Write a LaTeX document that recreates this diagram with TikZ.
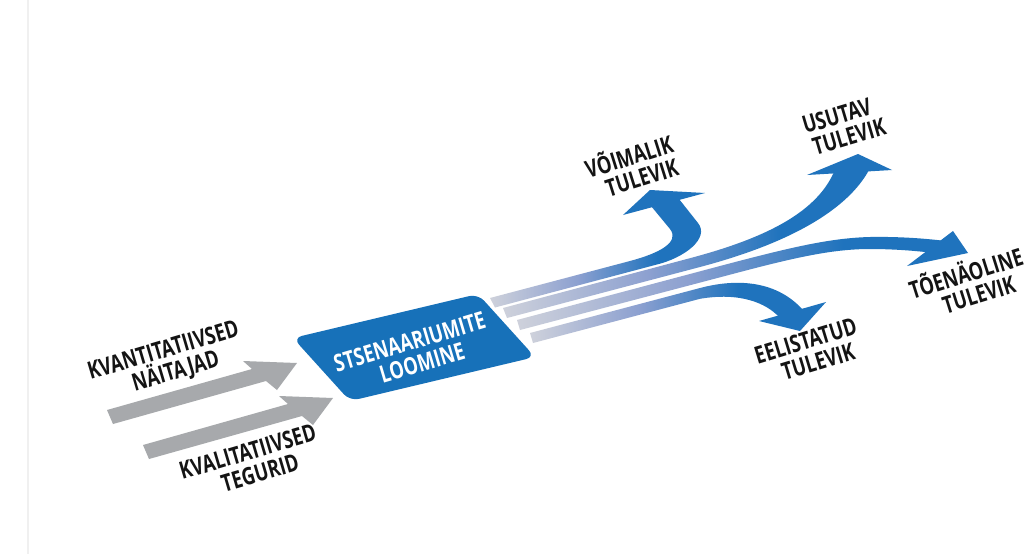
\documentclass[tikz,border=0pt]{standalone}
\usepackage{fontspec}
\newfontfamily\labfont{Open Sans}[FakeStretch=0.76]
\definecolor{boxblue}{RGB}{23,113,185}
\definecolor{arrowblue}{RGB}{31,115,189}
\definecolor{bandlight}{RGB}{206,209,219}
\definecolor{bandmid}{RGB}{140,160,208}
\definecolor{grayarrow}{RGB}{167,169,172}
\definecolor{labelink}{RGB}{20,20,20}
\definecolor{edgeline}{RGB}{240,240,240}
\pgfdeclarehorizontalshading{bandshade}{100bp}{color(0bp)=(bandlight); color(25bp)=(bandlight); color(45bp)=(bandmid); color(63bp)=(arrowblue); color(100bp)=(arrowblue)}
\begin{document}
\begin{tikzpicture}[x=1pt,y=-1pt,
  lab/.style={font=\labfont\bfseries\fontsize{24}{23.5}\selectfont, align=center, inner sep=0pt, text=labelink},
  boxtext/.style={lab, text=white},
  band/.style={shading=bandshade, shading angle=0},
  head/.style={fill=arrowblue},
  grayarr/.style={fill=grayarrow}]
\useasboundingbox (0,0) rectangle (1027,554);
\fill[white] (0,0) rectangle (1027,554);
\draw[edgeline, line width=1.2pt] (28,0) -- (28,554);

% grey input arrows
\fill[grayarr] (107,410) -- (252,369) -- (243,361) -- (297,363) -- (277,390) -- (266,381) -- (113,424) -- cycle;
\fill[grayarr] (143,445) -- (288,404) -- (279,396) -- (333,398) -- (313,425) -- (302,416) -- (149,459) -- cycle;

% central box
\fill[boxblue, rounded corners=9pt] (293,338) -- (478,294) -- (535,357) -- (350,401) -- cycle;
\node[boxtext, rotate=16.5] (box) at (413,353) {STSENAARIUMITE\\\hspace*{12pt}LOOMINE};

% band 1 -> VOIMALIK
\shade[band] (490,298) -- (630,261) .. controls (660,253) and (680,242) .. (670,229) -- (651,206) -- (679,199) -- (698,223) .. controls (710,238) and (685,258) .. (655,265) -- (495,307.5) -- cycle;
\fill[head] (623,215) -- (650,190) -- (705,193) -- cycle;

% band 2 -> USUTAV
\shade[band] (503,308) -- (685,259.5) .. controls (760,240) and (815,215) .. (834,172) -- (869,170) .. controls (850,205) and (800,240.5) .. (700,267) -- (507,318) -- cycle;
\fill[head] (807,175) -- (858,154) -- (892,170) -- cycle;

% band 3 -> TOENAOLINE
\shade[band] (517,320) -- (720,266) .. controls (790,247.5) and (830,238) .. (870,237) .. controls (900,236.5) and (925,238.5) .. (946,241) -- (941,254) .. controls (920,251) and (895,249) .. (870,249) .. controls (830,249) and (790,258.7) .. (725,276) -- (520,330) -- cycle;
\fill[head] (953,231) -- (968,253) -- (907,266) -- cycle;

% band 4 -> EELISTATUD
\shade[band] (530,333) -- (700,288) .. controls (740,277.5) and (778,282) .. (803,310) -- (779,317) .. controls (766,303) and (740,292) .. (700,298.8) -- (533,343) -- cycle;
\fill[head] (759,321) -- (826,302) -- (800,331) -- cycle;

% labels
\node[lab, rotate=16.5] (kvant) at (167,363) {KVANTITATIIVSED\\\hspace*{12pt}NÄITAJAD};
\node[lab, rotate=16.5] (kval) at (251,463) {KVALITATIIVSED\\\hspace*{12pt}TEGURID};
\node[lab, rotate=17.5] (voim) at (632,166) {VÕIMALIK\\\hspace*{12pt}TULEVIK};
\node[lab, rotate=16.5] (usut) at (840,127) {USUTAV\\\hspace*{12pt}TULEVIK};
\node[lab, rotate=17.5] (toen) at (969,283) {TÕENÄOLINE\\\hspace*{12pt}TULEVIK};
\node[lab, rotate=17] (eel) at (809,352) {EELISTATUD\\\hspace*{12pt}TULEVIK};
\end{tikzpicture}
\end{document}
